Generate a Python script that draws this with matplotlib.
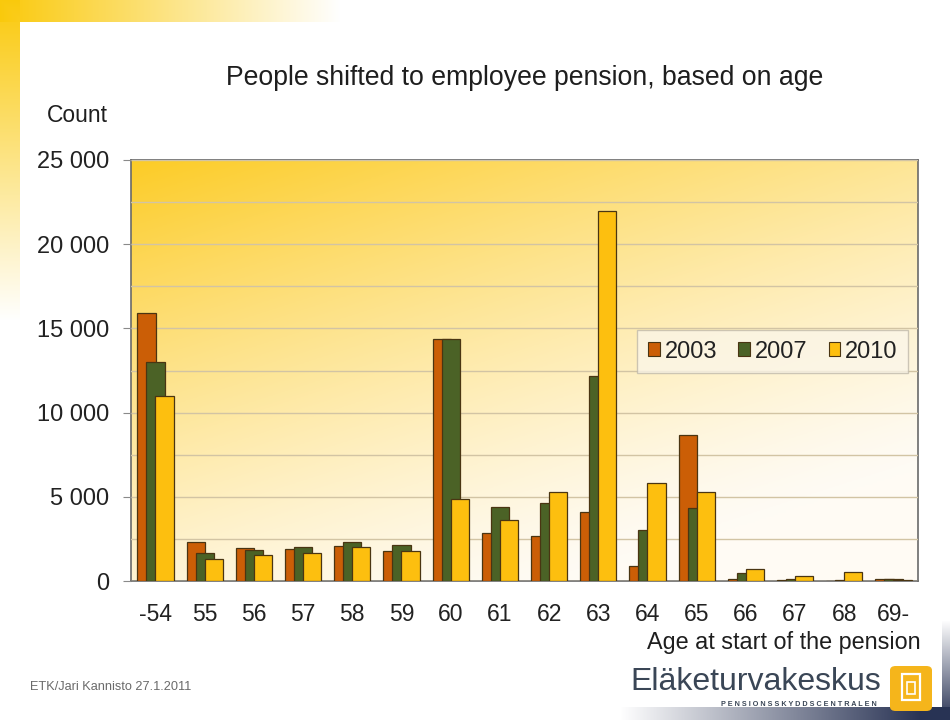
import numpy as np
import matplotlib
matplotlib.use("Agg")
import matplotlib.pyplot as plt
from matplotlib.patches import Patch, FancyBboxPatch, Rectangle
from matplotlib.ticker import FuncFormatter, MultipleLocator

plt.rcParams['font.family'] = ['Liberation Sans', 'DejaVu Sans']

categories = ['-54', '55', '56', '57', '58', '59', '60', '61', '62', '63',
              '64', '65', '66', '67', '68', '69-']
years = ['2003', '2007', '2010']
v2003 = [15900, 2330, 1980, 1880, 2080, 1780, 14350, 2830, 2670, 4080,
         890, 8650, 100, 50, 20, 100]
v2007 = [13000, 1680, 1840, 2040, 2320, 2140, 14350, 4380, 4610, 12170,
         3030, 4320, 450, 120, 80, 100]
v2010 = [11000, 1300, 1540, 1640, 2040, 1800, 4870, 3620, 5300, 21970,
         5840, 5270, 710, 310, 550, 50]

colors = ['#CB5E06', '#4B6226', '#FDBF0F']
W, H = 950, 720

fig = plt.figure(figsize=(9.5, 7.2), dpi=100)

# slide background: white page with a yellow frame fading out, dark corner
yy, xx = np.mgrid[0:H, 0:W].astype(float)
bg = np.ones((H, W, 3))
yellow = np.array([0.98, 0.79, 0.05])
top = (yy < 22) * np.clip(1 - xx / 340, 0, 1)
left = (xx < 20) * np.clip(1 - yy / 320, 0, 1)
amt = np.clip(np.maximum(top, left), 0, 1)[..., None]
bg = bg * (1 - amt) + yellow * amt
navy = np.array([0.16, 0.20, 0.33])
dark = ((yy > 706) * np.clip((xx - 620) / 300, 0, 1)) + \
       ((xx > 941) * np.clip((yy - 620) / 100, 0, 1))
dark = np.clip(dark, 0, 1)[..., None]
bg = bg * (1 - dark) + navy * dark
bgax = fig.add_axes([0, 0, 1, 1], zorder=-10)
bgax.imshow(bg, extent=[0, W, H, 0], aspect='auto')
bgax.set_xlim(0, W)
bgax.set_ylim(H, 0)
bgax.axis('off')

ax = fig.add_axes([131 / W, 1 - 581 / H, 787 / W, 421 / H])

# plot-area gradient: gold top-left fading to cream bottom-right
gy, gx = np.mgrid[0:1:200j, 0:1:200j]
t = np.clip(0.75 * gy + 0.45 * gx, 0, 1)  # gy: 0 top, 1 bottom
c0 = np.array([0.99, 0.80, 0.15])
c1 = np.array([1.0, 0.985, 0.96])
grad = c0 * (1 - t[..., None]) ** 1.3 + c1 * (1 - (1 - t[..., None]) ** 1.3)
ax.imshow(grad, extent=[0, 1, 0, 1], transform=ax.transAxes,
          aspect='auto', zorder=0)

x = np.arange(len(categories))
bw = 0.37
offs = [-0.183, 0.0, 0.183]
for vals, col, off, yr in zip([v2003, v2007, v2010], colors, offs, years):
    ax.bar(x + off, vals, width=bw, color=col, edgecolor='#4a3512',
           linewidth=0.9, zorder=3, label=yr)

ax.set_xlim(-0.5, len(categories) - 0.5)
ax.set_ylim(0, 25000)
ax.yaxis.set_major_locator(MultipleLocator(5000))
ax.yaxis.set_minor_locator(MultipleLocator(2500))
ax.yaxis.set_major_formatter(FuncFormatter(
    lambda v, p: f"{int(v):,}".replace(',', ' ')))
ax.grid(axis='y', which='both', color='#d2c4a4', linewidth=1.0, zorder=1)
ax.set_axisbelow(False)
ax.set_xticks(x)
ax.set_xticklabels(categories)
ax.tick_params(axis='x', length=0, pad=16, labelsize=16.5, colors='#222222')
ax.tick_params(axis='y', which='major', length=6, width=0.8, pad=10,
               labelsize=17, colors='#8a8a8a', labelcolor='#222222')
ax.tick_params(axis='y', which='minor', length=0)
for s in ax.spines.values():
    s.set_color('#6a6a6a')
    s.set_linewidth(1.2)

handles = [Patch(facecolor=c, edgecolor='#4a3512', linewidth=0.8) for c in colors]
leg = ax.legend(handles, years, loc='center', ncol=3,
                bbox_to_anchor=(0.8155, 0.545), fontsize=17,
                handlelength=0.5, handleheight=0.5, handletextpad=0.2,
                columnspacing=0.9, fancybox=False, framealpha=0.75,
                facecolor='#fbf6ea', edgecolor='#bdb6a8',
                borderpad=0.45)
leg.get_frame().set_linewidth(1.0)
for tx in leg.get_texts():
    tx.set_color('#222222')

fig.text(525 / W, 1 - 78 / H, 'People shifted to employee pension, based on age',
         ha='center', va='center', fontsize=19.2, color='#1e1e1e')
fig.text(77 / W, 1 - 115 / H, 'Count', ha='center', va='center',
         fontsize=16.5, color='#1e1e1e')
fig.text(921 / W, 1 - 643 / H, 'Age at start of the pension', ha='right',
         va='center', fontsize=16.8, color='#1e1e1e')
fig.text(30 / W, 1 - 687 / H, 'ETK/Jari Kannisto 27.1.2011', ha='left',
         va='center', fontsize=9.2, color='#6a6a6a')

# organisation logo
fig.text(630 / W, 1 - 682 / H, 'Eläketurvakeskus', ha='left', va='center',
         fontsize=23, color='#3a4656')
fig.text(799 / W, 1 - 704 / H, 'P E N S I O N S S K Y D D S C E N T R A L E N',
         ha='center', va='center', fontsize=5.2, color='#3a4656',
         fontweight='bold')
logo = FancyBboxPatch((890 / W, 1 - 711 / H), 42 / W, 45 / H,
                      boxstyle='round,pad=0,rounding_size=0.006',
                      transform=fig.transFigure, facecolor='#f5b51b',
                      edgecolor='none', zorder=5)
fig.patches.append(logo)
fig.patches.append(Rectangle((902 / W, 1 - 700 / H), 18 / W, 26 / H,
                             transform=fig.transFigure, facecolor='none',
                             edgecolor='white', linewidth=1.6, zorder=6))
fig.patches.append(Rectangle((907 / W, 1 - 694 / H), 8 / W, 12 / H,
                             transform=fig.transFigure, facecolor='none',
                             edgecolor='white', linewidth=1.2, zorder=6))

fig.savefig('out.png', dpi=100)
